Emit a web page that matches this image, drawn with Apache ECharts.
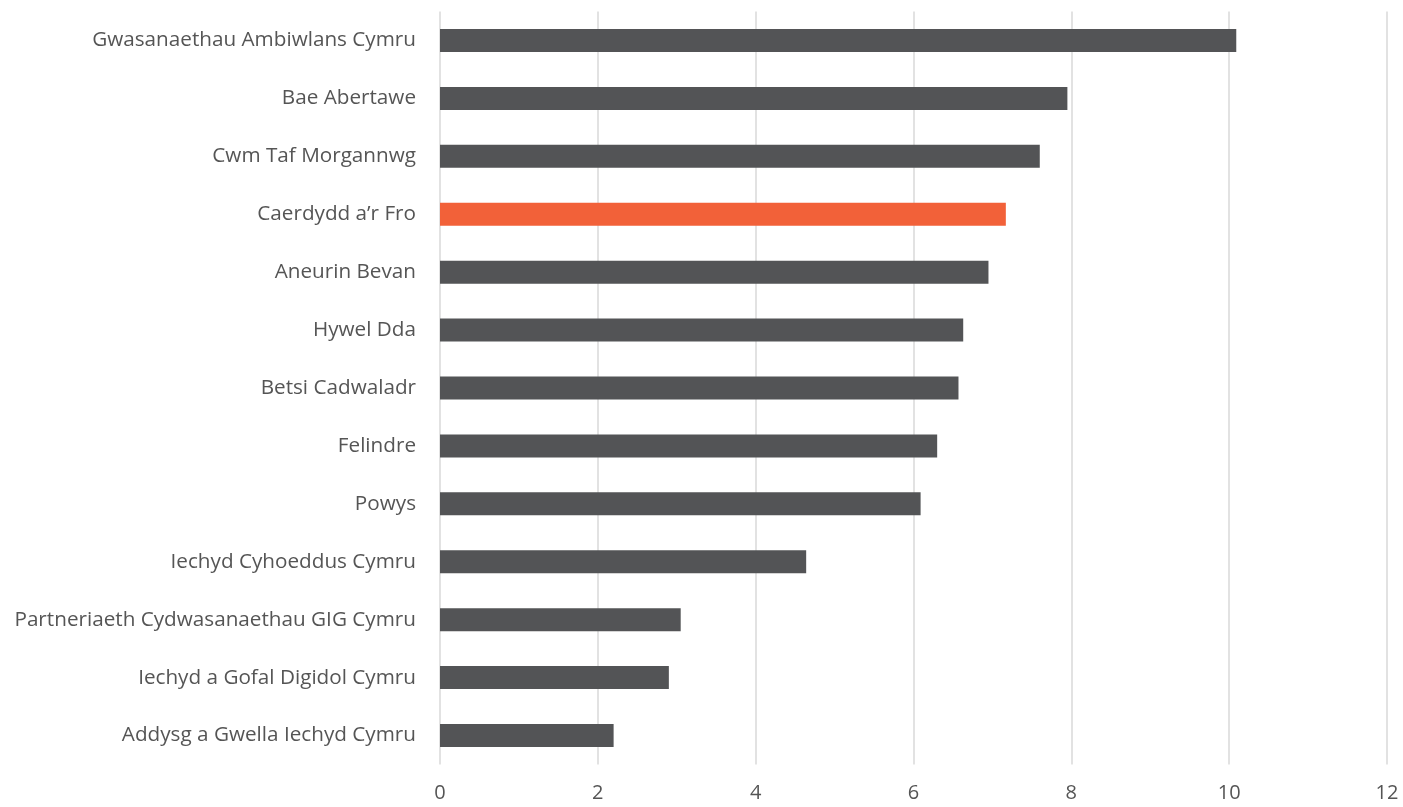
<!DOCTYPE html>
<html><head><meta charset="utf-8">
<script src="https://cdn.jsdelivr.net/npm/echarts@6/dist/echarts.min.js"></script>
<style>html,body{margin:0;padding:0;background:#fff}#c{width:1403px;height:807px}</style>
</head><body><div id="c"></div>
<script>
var categories = ["Gwasanaethau Ambiwlans Cymru","Bae Abertawe","Cwm Taf Morgannwg","Caerdydd a\u2019r Fro","Aneurin Bevan","Hywel Dda","Betsi Cadwaladr","Felindre","Powys","Iechyd Cyhoeddus Cymru","Partneriaeth Cydwasanaethau GIG Cymru","Iechyd a Gofal Digidol Cymru","Addysg a Gwella Iechyd Cymru"];
var values = [10.09, 7.95, 7.60, 7.17, 6.95, 6.63, 6.57, 6.30, 6.09, 4.64, 3.05, 2.90, 2.20];
var highlight = "Caerdydd a\u2019r Fro";
var xTicks = [0, 2, 4, 6, 8, 10, 12];

var chart = echarts.init(document.getElementById('c'), null, {renderer: 'canvas'});
chart.setOption({
  animation: false,
  grid: {left: 440, right: 16, top: 11.5, bottom: 42.5, containLabel: false},
  xAxis: {
    type: 'value', min: xTicks[0], max: xTicks[xTicks.length-1], interval: 2,
    axisLine: {show: false}, axisTick: {show: false},
    axisLabel: {color: '#555555', fontSize: 20, fontFamily: 'Open Sans', margin: 19},
    splitLine: {show: true, lineStyle: {color: '#d9d9d9', width: 1.5}}
  },
  yAxis: {
    type: 'category', data: categories, inverse: true,
    axisLine: {show: false}, axisTick: {show: false},
    axisLabel: {color: '#555555', fontSize: 20.7, fontFamily: 'Open Sans', margin: 24}
  },
  series: [{
    type: 'bar', barWidth: 23,
    data: values.map(function(v, i){
      return {value: v, itemStyle: {color: categories[i] === highlight ? '#f26139' : '#535456'}};
    })
  }]
});
</script></body></html>
